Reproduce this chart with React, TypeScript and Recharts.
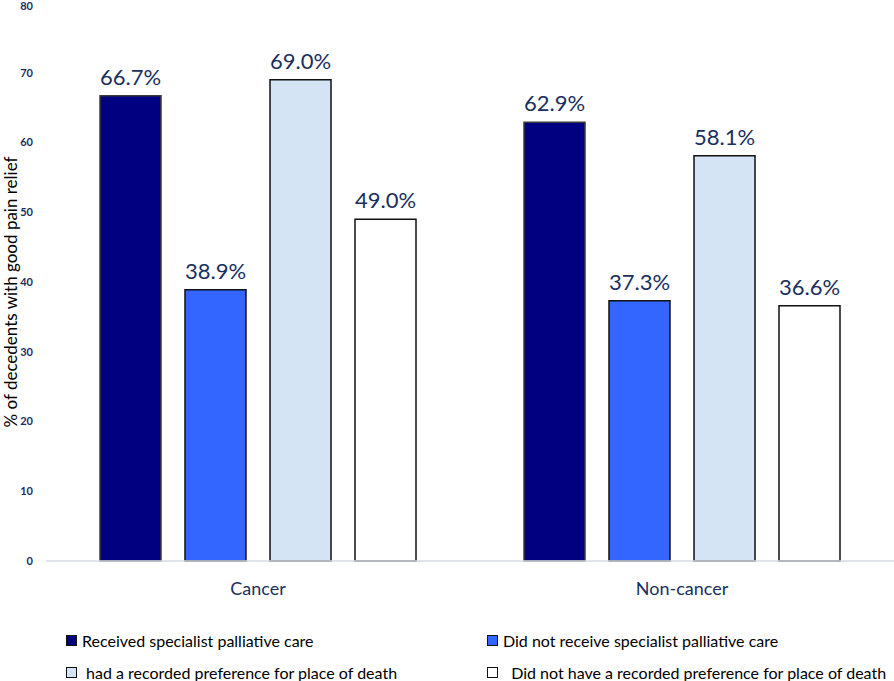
import React from 'react';
import { BarChart, Bar, XAxis, YAxis, Legend, LabelList } from 'recharts';

const categories = ['Cancer', 'Non-cancer'];
const received = [66.7, 62.9];
const notReceived = [38.9, 37.3];
const hadPreference = [69.0, 58.1];
const noPreference = [49.0, 36.6];
const yTicks = [0, 10, 20, 30, 40, 50, 60, 70, 80];

const series = [
  { key: 'received', name: 'Received specialist palliative care', fill: '#000080', stroke: '#3a3a3a' },
  { key: 'notReceived', name: 'Did not receive specialist palliative care', fill: '#3366ff', stroke: '#111' },
  { key: 'hadPreference', name: ' had a recorded preference for place of death', fill: '#d5e4f4', stroke: '#111' },
  { key: 'noPreference', name: '  Did not have a recorded preference for place of death', fill: '#ffffff', stroke: '#111' },
];

const data = categories.map((c, i) => ({
  name: c,
  received: received[i],
  notReceived: notReceived[i],
  hadPreference: hadPreference[i],
  noPreference: noPreference[i],
}));

const navy = '#1a2f5e';
const font = 'Lato, "Open Sans", sans-serif';

const LegendBox = () => (
  <div
    style={{
      display: 'grid',
      gridTemplateColumns: '421px 407px',
      rowGap: 14,
      paddingLeft: 66,
      paddingTop: 30,
      fontFamily: font,
      fontSize: 16,
      color: '#000',
      textAlign: 'left',
    }}
  >
    {series.map((s) => (
      <div key={s.key} style={{ display: 'flex', alignItems: 'center', height: 18 }}>
        <span
          style={{
            width: 9,
            height: 9,
            background: s.fill,
            border: '1px solid #111',
            marginRight: 5,
            flexShrink: 0,
          }}
        />
        <span style={{ whiteSpace: 'pre' }}>{s.name}</span>
      </div>
    ))}
  </div>
);

const YLabel = ({ viewBox }: any) => {
  const x = 10;
  const y = viewBox.y + viewBox.height / 2 + 10;
  return (
    <text
      x={x}
      y={y}
      transform={`rotate(-90, ${x}, ${y})`}
      textAnchor="middle"
      dominantBaseline="central"
      fill="#000"
      fontSize={17}
      fontFamily={font}
    >
      % of decedents with good pain relief
    </text>
  );
};

export default function App() {
  return (
    <div style={{ width: 894, height: 681 }}>
      <style>{`body{margin:0}`}</style>
      <BarChart
        width={894}
        height={681}
        data={data}
        margin={{ top: 3, right: 0, left: 0, bottom: 0 }}
        barSize={61}
        barGap={24}
      >
        <XAxis
          dataKey="name"
          height={40}
          axisLine={{ stroke: '#d6dce5', strokeWidth: 1.5 }}
          tickLine={false}
          tickMargin={15}
          tick={{ fill: navy, fontSize: 18, fontFamily: font }}
        />
        <YAxis
          width={46}
          domain={[0, 80]}
          ticks={yTicks}
          axisLine={false}
          tickLine={false}
          tickMargin={7}
          tick={{ fill: navy, fontSize: 11, fontFamily: font, fontWeight: 700 }}
          label={<YLabel />}
        />
        <Legend verticalAlign="bottom" height={80} content={() => <LegendBox />} />
        {series.map((s) => (
          <Bar
            key={s.key}
            dataKey={s.key}
            name={s.name}
            fill={s.fill}
            stroke={s.stroke}
            strokeWidth={1.5}
            isAnimationActive={false}
          >
            <LabelList
              dataKey={s.key}
              position="top"
              offset={11}
              formatter={(v: number) => `${v.toFixed(1)}%`}
              style={{ fill: navy, fontSize: 22, fontFamily: font }}
            />
          </Bar>
        ))}
      </BarChart>
    </div>
  );
}
